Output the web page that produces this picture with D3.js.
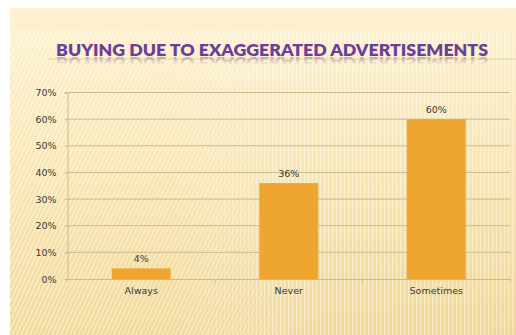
<!DOCTYPE html>
<html>
<head>
<meta charset="utf-8">
<script src="https://cdn.jsdelivr.net/npm/d3@7"></script>
<style>
  html, body { margin: 0; padding: 0; background: #ffffff; }
  svg { display: block; }
</style>
</head>
<body>
<svg id="chart" width="516" height="335"></svg>
<script>
// Survey answers: how often people buy because of exaggerated ads
const categories = ["Always", "Never", "Sometimes"];
const shares = [4, 36, 60];
const yTicks = [0, 10, 20, 30, 40, 50, 60, 70];
const titleText = "BUYING DUE TO EXAGGERATED ADVERTISEMENTS";

const W = 516, H = 335;
const svg = d3.select("#chart");
const defs = svg.append("defs");

// Slide background: warm cream gradient
const bg = defs.append("linearGradient").attr("id", "bgGrad")
  .attr("x1", 0).attr("y1", 0).attr("x2", 0).attr("y2", 1);
bg.append("stop").attr("offset", "0%").attr("stop-color", "#fdf2d0");
bg.append("stop").attr("offset", "45%").attr("stop-color", "#f9e6b2");
bg.append("stop").attr("offset", "100%").attr("stop-color", "#f2d897");

// Diagonal hatching (left side) and vertical stripes (centre/right)
const diag = defs.append("pattern").attr("id", "diag")
  .attr("width", 4).attr("height", 4).attr("patternUnits", "userSpaceOnUse")
  .attr("patternTransform", "rotate(25)");
diag.append("rect").attr("width", 1.3).attr("height", 4).attr("fill", "#ffffff").attr("opacity", 0.6);

const vert = defs.append("pattern").attr("id", "vert")
  .attr("width", 4).attr("height", 4).attr("patternUnits", "userSpaceOnUse");
vert.append("rect").attr("width", 1.3).attr("height", 4).attr("fill", "#ffffff").attr("opacity", 0.55);

const fadeL = defs.append("linearGradient").attr("id", "fadeL")
  .attr("x1", 0).attr("y1", 0).attr("x2", 1).attr("y2", 0);
fadeL.append("stop").attr("offset", "0%").attr("stop-color", "#fff").attr("stop-opacity", 1);
fadeL.append("stop").attr("offset", "40%").attr("stop-color", "#fff").attr("stop-opacity", 0.8);
fadeL.append("stop").attr("offset", "60%").attr("stop-color", "#fff").attr("stop-opacity", 0);
defs.append("mask").attr("id", "maskL")
  .append("rect").attr("x", 10).attr("y", 30).attr("width", W).attr("height", H)
  .attr("fill", "url(#fadeL)");

const fadeR = defs.append("linearGradient").attr("id", "fadeR")
  .attr("x1", 0).attr("y1", 0).attr("x2", 1).attr("y2", 0);
fadeR.append("stop").attr("offset", "30%").attr("stop-color", "#fff").attr("stop-opacity", 0);
fadeR.append("stop").attr("offset", "55%").attr("stop-color", "#fff").attr("stop-opacity", 0.9);
fadeR.append("stop").attr("offset", "100%").attr("stop-color", "#fff").attr("stop-opacity", 0.7);
defs.append("mask").attr("id", "maskR")
  .append("rect").attr("x", 10).attr("y", 30).attr("width", W).attr("height", H)
  .attr("fill", "url(#fadeR)");

svg.append("rect").attr("x", 10).attr("y", 8).attr("width", W - 10).attr("height", H - 8)
  .attr("fill", "url(#bgGrad)");
svg.append("rect").attr("x", 10).attr("y", 30).attr("width", W - 10).attr("height", H - 30)
  .attr("fill", "url(#diag)").attr("mask", "url(#maskL)");
svg.append("rect").attr("x", 10).attr("y", 30).attr("width", W - 10).attr("height", H - 30)
  .attr("fill", "url(#vert)").attr("mask", "url(#maskR)");

// Title, plus a faded mirrored copy of it as a reflection
const titleX = 272, titleY = 56;
defs.append("text").attr("id", "titleGlyphs")
  .attr("x", titleX).attr("y", titleY)
  .attr("text-anchor", "middle")
  .attr("font-family", "Lato, 'Open Sans', sans-serif")
  .attr("font-weight", 800)
  .attr("font-size", 16)
  .attr("textLength", 432)
  .attr("lengthAdjust", "spacingAndGlyphs")
  .attr("fill", "#6b3f98")
  .text(titleText);

const reflFade = defs.append("linearGradient").attr("id", "reflFade")
  .attr("x1", 0).attr("y1", 0).attr("x2", 0).attr("y2", 1);
reflFade.append("stop").attr("offset", "0%").attr("stop-color", "#fff").attr("stop-opacity", 0.5);
reflFade.append("stop").attr("offset", "70%").attr("stop-color", "#fff").attr("stop-opacity", 0);
defs.append("mask").attr("id", "reflMask").attr("maskUnits", "userSpaceOnUse")
  .attr("x", 0).attr("y", titleY).attr("width", W).attr("height", 12)
  .append("rect").attr("x", 0).attr("y", titleY).attr("width", W).attr("height", 12)
  .attr("fill", "url(#reflFade)");

svg.append("g").attr("mask", "url(#reflMask)")
  .append("use").attr("href", "#titleGlyphs")
  .attr("transform", `translate(0,${2 * titleY + 1}) scale(1,-1)`);
svg.append("use").attr("href", "#titleGlyphs");

svg.append("line").attr("x1", 48).attr("x2", W).attr("y1", 59).attr("y2", 59)
  .attr("stroke", "#d9c27e").attr("stroke-width", 0.8).attr("opacity", 0.8);

// Plot area
const margin = { left: 67.5, right: 6, top: 92.5, bottom: 56 };
const x = d3.scaleBand().domain(categories)
  .range([margin.left, W - margin.right])
  .paddingInner(0.6).paddingOuter(0.3);
const y = d3.scaleLinear().domain([0, 70]).range([H - margin.bottom, margin.top]);

const lineColor = "#cbbb8f";
const textColor = "#3a3a3a";
const font = "'DejaVu Sans', Verdana, sans-serif";

// Horizontal gridlines and y-axis labels
const yAxis = svg.append("g")
  .attr("transform", `translate(${margin.left},0)`)
  .call(d3.axisLeft(y).tickValues(yTicks).tickFormat(d => d + "%")
    .tickSize(3).tickPadding(8));
yAxis.select(".domain").attr("stroke", lineColor);
yAxis.selectAll(".tick line").attr("stroke", lineColor);
yAxis.selectAll(".tick text")
  .attr("fill", textColor).attr("font-family", font).attr("font-size", 9.5);

svg.append("g").selectAll("line.grid")
  .data(yTicks.filter(d => d > 0))
  .join("line")
  .attr("x1", margin.left).attr("x2", W - margin.right)
  .attr("y1", d => y(d)).attr("y2", d => y(d))
  .attr("stroke", lineColor).attr("stroke-width", 1);

// Category axis with ticks at band boundaries
const xAxisY = y(0);
const xAxis = svg.append("g")
  .attr("transform", `translate(0,${xAxisY})`)
  .call(d3.axisBottom(x).tickSize(0).tickPadding(8));
xAxis.select(".domain").attr("stroke", lineColor);
xAxis.selectAll(".tick text")
  .attr("fill", textColor).attr("font-family", font).attr("font-size", 9.5);

const step = x.step();
svg.append("g").selectAll("line.sep")
  .data(d3.range(categories.length + 1))
  .join("line")
  .attr("x1", i => margin.left + i * step).attr("x2", i => margin.left + i * step)
  .attr("y1", xAxisY).attr("y2", xAxisY + 3)
  .attr("stroke", lineColor);

// Bars and value labels
svg.append("g").selectAll("rect.bar")
  .data(categories)
  .join("rect")
  .attr("x", d => x(d))
  .attr("width", x.bandwidth())
  .attr("y", (d, i) => y(shares[i]))
  .attr("height", (d, i) => y(0) - y(shares[i]))
  .attr("fill", "#efa631");

svg.append("g").selectAll("text.val")
  .data(categories)
  .join("text")
  .attr("x", d => x(d) + x.bandwidth() / 2)
  .attr("y", (d, i) => y(shares[i]) - 6)
  .attr("text-anchor", "middle")
  .attr("fill", textColor).attr("font-family", font).attr("font-size", 9.5)
  .text((d, i) => shares[i] + "%");
</script>
</body>
</html>
